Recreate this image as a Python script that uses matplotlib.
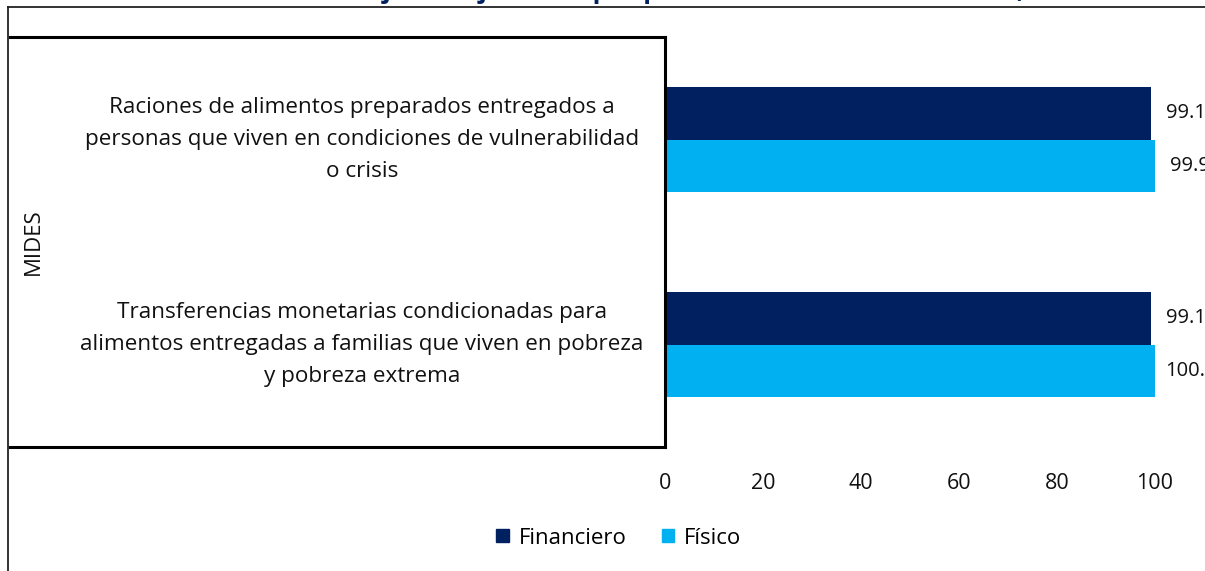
import matplotlib.pyplot as plt
import matplotlib.transforms as mtransforms
from matplotlib.patches import Patch
from matplotlib.lines import Line2D

plt.rcParams['font.family'] = ['Open Sans', 'DejaVu Sans']

# Data
categories = [
    'Raciones de alimentos preparados entregados a\npersonas que viven en condiciones de vulnerabilidad\no crisis',
    'Transferencias monetarias condicionadas para\nalimentos entregadas a familias que viven en pobreza\ny pobreza extrema',
]
group_label = 'MIDES'
financiero = [99.1, 99.1]
fisico = [99.9, 100.0]
x_ticks = [0, 20, 40, 60, 80, 100]
title = 'Gráfica 4. Porcentajes de ejecución por productos asociados a la SAN, 2024'

c_fin = '#002060'
c_fis = '#00B0F0'

W, H = 1205, 571
fig = plt.figure(figsize=(W / 100, H / 100), dpi=100)

def fx(px):
    return px / W

def fy(py):
    return 1 - py / H

ax = fig.add_axes([fx(665), fy(447), fx(1155) - fx(665), fy(37) - fy(447)])

bh = 0.256
ypos = list(range(len(categories)))
ax.barh([y - bh / 2 for y in ypos], financiero, height=bh, color=c_fin, label='Financiero')
ax.barh([y + bh / 2 for y in ypos], fisico, height=bh, color=c_fis, label='Físico')

for y, v in zip(ypos, financiero):
    ax.text(v + 7.3, y - bh / 2, f'{v:.1f}', ha='center', va='center', fontsize=14.5, color='#111111', clip_on=False)
for y, v in zip(ypos, fisico):
    ax.text(v + 7.3, y + bh / 2, f'{v:.1f}', ha='center', va='center', fontsize=14.5, color='#111111', clip_on=False)

ax.set_xlim(0, 100)
ax.set_ylim(-0.5, len(categories) - 0.5)
ax.invert_yaxis()
ax.set_xticks(x_ticks)
ax.tick_params(axis='x', length=0, pad=19, labelsize=15.5, labelcolor='#111111')
ax.set_yticks([])
for s in ['top', 'right', 'bottom']:
    ax.spines[s].set_visible(False)
ax.spines['left'].set_linewidth(2.2)
ax.spines['left'].set_color('black')

# category labels
tr = mtransforms.blended_transform_factory(fig.transFigure, ax.transData)
for y, lab in zip(ypos, categories):
    ax.text(fx(362), y, lab, transform=tr, ha='center', va='center', fontsize=16.2,
            linespacing=1.68, color='#111111')

fig.text(fx(33), fy(242), group_label, rotation=90, ha='center', va='center', fontsize=16, color='#111111')

# label box lines
fig.add_artist(Line2D([fx(10), fx(665)], [fy(37), fy(37)], color='black', lw=2.2))
fig.add_artist(Line2D([fx(10), fx(665)], [fy(447), fy(447)], color='black', lw=2.2))

# outer chart frame
fig.add_artist(Line2D([fx(8), fx(1205)], [fy(7), fy(7)], color='#222222', lw=1.3))
fig.add_artist(Line2D([fx(8), fx(8)], [fy(7), fy(571)], color='#222222', lw=1.3))

# title (cut off at top)
fig.text(fx(615), fy(-2), title, ha='center', va='baseline', fontsize=18.5, fontweight='bold', color=c_fin)

handles = [Patch(color=c_fin, label='Financiero'), Patch(color=c_fis, label='Físico')]
fig.legend(handles=handles, loc='center', bbox_to_anchor=(fx(619), fy(538)), ncol=2, frameon=False,
           fontsize=16, handlelength=0.55, handleheight=0.55, handletextpad=0.45, columnspacing=1.6)

fig.savefig('out.png', dpi=100)
